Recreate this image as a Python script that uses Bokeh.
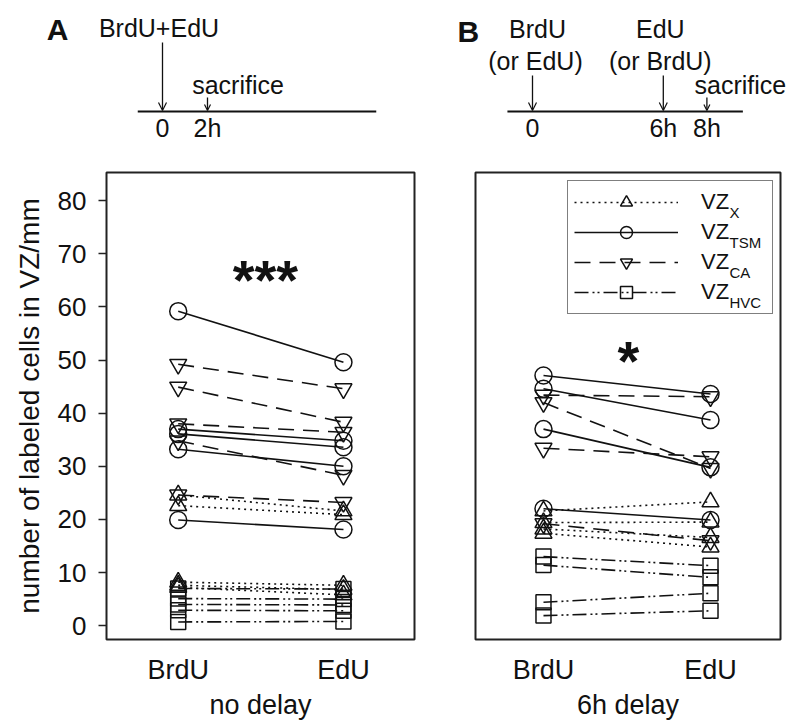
from bokeh.plotting import figure
from bokeh.models import Range1d, FixedTicker, Legend, LegendItem, Label, Arrow, OpenHead
from bokeh.layouts import column, row
from bokeh.embed import file_html
from bokeh.resources import INLINE
from bokeh.core.properties import value

FONT = "Liberation Sans"
INK = "#111111"

# ---------------- data ----------------
categories = ["BrdU", "EdU"]
conditions = ["no delay", "6h delay"]
regions = ["X", "TSM", "CA", "HVC"]
y_ticks = [0, 10, 20, 30, 40, 50, 60, 70, 80]
significance = ["***", "*"]

# panel A : no delay (BrdU value, EdU value per animal)
X_A_brdu = [24.6, 22.6, 8.2, 7.6, 7.2]
X_A_edu = [21.6, 20.9, 7.6, 6.8, 5.8]
TSM_A_brdu = [59.2, 37.0, 36.1, 33.2, 19.9]
TSM_A_edu = [49.6, 34.8, 33.6, 30.0, 18.1]
CA_A_brdu = [49.2, 44.9, 38.0, 34.8, 24.6]
CA_A_edu = [44.6, 38.3, 36.4, 28.3, 23.2]
HVC_A_brdu = [7.0, 5.1, 4.0, 2.9, 0.7]
HVC_A_edu = [6.9, 5.0, 3.9, 2.8, 0.8]

# panel B : 6h delay
X_B_brdu = [21.6, 19.4, 18.2, 17.4]
X_B_edu = [23.3, 19.5, 16.6, 14.8]
TSM_B_brdu = [47.1, 44.6, 37.0, 22.0]
TSM_B_edu = [43.6, 38.7, 29.8, 19.9]
CA_B_brdu = [43.4, 42.0, 33.4, 19.2]
CA_B_edu = [43.1, 29.6, 31.8, 16.0]
HVC_B_brdu = [13.0, 11.4, 4.4, 1.9]
HVC_B_edu = [11.3, 9.1, 6.1, 2.8]

# timelines (hours)
tl_A_inject_h = [0]
tl_A_inject_label = ["BrdU+EdU"]
tl_A_sacrifice_h = 2
tl_A_tick_h = [0, 2]
tl_A_tick_label = ["0", "2h"]

tl_B_inject_h = [0, 6]
tl_B_inject_label1 = ["BrdU", "EdU"]
tl_B_inject_label2 = ["(or EdU)", "(or BrdU)"]
tl_B_sacrifice_h = 8
tl_B_tick_h = [0, 6, 8]
tl_B_tick_label = ["0", "6h", "8h"]

panel_data = {
    "no delay": {"X": (X_A_brdu, X_A_edu), "TSM": (TSM_A_brdu, TSM_A_edu),
                 "CA": (CA_A_brdu, CA_A_edu), "HVC": (HVC_A_brdu, HVC_A_edu)},
    "6h delay": {"X": (X_B_brdu, X_B_edu), "TSM": (TSM_B_brdu, TSM_B_edu),
                 "CA": (CA_B_brdu, CA_B_edu), "HVC": (HVC_B_brdu, HVC_B_edu)},
}

styles = {
    "X": dict(marker="triangle", dash="2 4", size=17),
    "TSM": dict(marker="circle", dash="solid", size=17),
    "CA": dict(marker="inverted_triangle", dash="16 9", size=17),
    "HVC": dict(marker="square", dash="14 4 2 3 2 4", size=15),
}

cat_x = {c: i + 1 for i, c in enumerate(categories)}
Y_RANGE = (-2.6, 85.3)

# ---------------- layout constants (pixels) ----------------
TL_H = 150           # timeline strip height
PANEL_H = 573        # data panel height
FRAME_TOP_BORDER = 22
FRAME_H = 467
A_W, A_LEFT, A_RIGHT = 430, 106, 16      # frame 106..414
B_W, B_LEFT, B_RIGHT = 359, 45, 9        # frame 475..780


def make_panel(cond, xr, width, mbl, mbr, show_y):
    p = figure(width=width, height=PANEL_H, x_range=Range1d(*xr), y_range=Range1d(*Y_RANGE),
               output_backend="svg", toolbar_location=None,
               min_border_left=mbl, min_border_right=mbr, min_border_top=FRAME_TOP_BORDER,
               min_border_bottom=PANEL_H - FRAME_TOP_BORDER - FRAME_H,
               y_axis_location="left" if show_y else None)
    p.grid.visible = False
    p.background_fill_color = "white"
    p.border_fill_color = "white"
    p.outline_line_color = "#222222"
    p.outline_line_width = 2

    ax = p.xaxis[0]
    ax.ticker = FixedTicker(ticks=[cat_x[c] for c in categories])
    ax.major_label_overrides = {cat_x[c]: c for c in categories}
    ax.axis_line_color = None
    ax.major_tick_line_color = None
    ax.minor_tick_line_color = None
    ax.major_tick_out = 0
    ax.major_label_standoff = 15
    ax.major_label_text_font = FONT
    ax.major_label_text_font_size = "27px"
    ax.major_label_text_color = INK
    ax.axis_label = cond
    ax.axis_label_standoff = 2
    ax.axis_label_text_font = FONT
    ax.axis_label_text_font_size = "27px"
    ax.axis_label_text_font_style = "normal"
    ax.axis_label_text_color = INK

    if show_y:
        ay = p.yaxis[0]
        ay.ticker = FixedTicker(ticks=y_ticks)
        ay.axis_line_color = None
        ay.minor_tick_line_color = None
        ay.major_tick_out = 8
        ay.major_tick_in = 0
        ay.major_tick_line_color = "#222222"
        ay.major_tick_line_width = 1.3
        ay.major_label_standoff = 12
        ay.major_label_text_font = FONT
        ay.major_label_text_font_size = "26px"
        ay.major_label_text_color = INK
        ay.axis_label = "number of labeled cells in VZ/mm"
        ay.axis_label_standoff = 10
        ay.axis_label_text_font = FONT
        ay.axis_label_text_font_size = "28px"
        ay.axis_label_text_font_style = "normal"
        ay.axis_label_text_color = INK

    rends = {}
    for reg in regions:
        b, e = panel_data[cond][reg]
        st = styles[reg]
        lr = p.multi_line(xs=[[cat_x["BrdU"], cat_x["EdU"]] for _ in b],
                          ys=[[bv, ev] for bv, ev in zip(b, e)],
                          line_color=INK, line_width=1.6, line_dash=st["dash"])
        sr = p.scatter(x=[cat_x["BrdU"]] * len(b) + [cat_x["EdU"]] * len(e), y=b + e,
                       marker=st["marker"], size=st["size"], fill_color=None,
                       line_color=INK, line_width=1.5)
        rends[reg] = (lr, sr)
    return p, rends


XR_A = (0.566, 2.43)
XR_B = (0.593, 2.419)
pA, rA = make_panel("no delay", XR_A, A_W, A_LEFT, A_RIGHT, True)
pB, rB = make_panel("6h delay", XR_B, B_W, B_LEFT, B_RIGHT, False)

# significance marks
pA.add_layout(Label(x=1.528, y=65.2, text=significance[0], text_font=FONT, text_font_size="56px",
                    text_font_style="bold", text_align="center", text_baseline="middle",
                    text_color=INK))
pB.add_layout(Label(x=1.509, y=50.0, text=significance[1], text_font=FONT, text_font_size="56px",
                    text_font_style="bold", text_align="center", text_baseline="middle",
                    text_color=INK))

# legend in panel B (transparent background so the subscripts show through)
LEG_PAD, LEG_ITEM_H = 6, 30
items = [LegendItem(label="VZ", renderers=list(rB[reg])) for reg in regions]
legend = Legend(items=items, location=(92, 325), glyph_width=104, glyph_height=LEG_ITEM_H,
                label_height=LEG_ITEM_H, label_width=65, label_standoff=23, padding=LEG_PAD,
                spacing=0, margin=0, border_line_color="black", border_line_width=1.5,
                background_fill_alpha=0.0,
                label_text_font=FONT, label_text_font_size="22px", label_text_color=INK)
pB.add_layout(legend)

# subscripts next to the legend labels (pixel layout -> panel B data units)
FRAME_B_LEFT, FRAME_B_W = 475, 305
FRAME_TOP = TL_H + FRAME_TOP_BORDER


def bx(px):
    return XR_B[0] + (px - FRAME_B_LEFT) / FRAME_B_W * (XR_B[1] - XR_B[0])


def by(py):
    return Y_RANGE[1] - (py - FRAME_TOP) / FRAME_H * (Y_RANGE[1] - Y_RANGE[0])


leg_top = FRAME_TOP + FRAME_H - 325 - (2 * LEG_PAD + LEG_ITEM_H * len(regions))
sub_x = [bx(729)] * len(regions)
sub_y = [by(leg_top + LEG_PAD + LEG_ITEM_H * (i + 0.5) + 9) for i in range(len(regions))]
pB.text(x=sub_x, y=sub_y, text=regions, text_font=value(FONT), text_font_size="15px",
        text_align="left", text_baseline="middle", text_color=INK)


# ---------------- timelines ----------------
def make_timeline(width, xr):
    t = figure(width=width, height=TL_H, x_range=Range1d(*xr), y_range=Range1d(0, TL_H),
               output_backend="svg", toolbar_location=None, min_border=0,
               min_border_left=0, min_border_right=0, min_border_top=0, min_border_bottom=0,
               x_axis_location=None, y_axis_location=None)
    t.grid.visible = False
    t.outline_line_color = None
    t.background_fill_color = "white"
    t.border_fill_color = "white"
    return t


def txt(t, x, y, s, size="25px", style="normal", xoff=0):
    t.text(x=x, y=y, text=s, text_font=value(FONT), text_font_size=size,
           text_font_style=style, text_align="center", text_baseline="middle",
           text_color=INK, x_offset=xoff)


def arrow(t, x, y0, y1, size=8):
    t.add_layout(Arrow(end=OpenHead(size=size, line_width=1.2, line_color=INK),
                       x_start=x, y_start=y0, x_end=x, y_end=y1,
                       line_width=1.3, line_color=INK))


def v(py):  # pixel row inside the timeline strip -> strip units
    return TL_H - py


# A: 0h at x 162; 22.5 px per hour
tA = make_timeline(A_W, (-162 / 22.5, (A_W - 162) / 22.5))
tA.segment(x0=[-1.1], x1=[9.5], y0=[v(111)], y1=[v(111)], line_color=INK, line_width=2)
txt(tA, [-4.667], [v(29)], ["A"], size="30px", style="bold")
txt(tA, tl_A_inject_h, [v(27.5)] * len(tl_A_inject_h), tl_A_inject_label, xoff=-3.5)
for h in tl_A_inject_h:
    arrow(tA, h, v(42), v(110))
txt(tA, [tl_A_sacrifice_h], [v(84)], ["sacrifice"], xoff=30.5)
arrow(tA, tl_A_sacrifice_h, v(97), v(110), size=6)
txt(tA, tl_A_tick_h, [v(127)] * len(tl_A_tick_h), tl_A_tick_label)

# B: 0h at x 532 (strip starts at 430); 21.8 px per hour
tB = make_timeline(B_W, (-102 / 21.8, (B_W - 102) / 21.8))
tB.segment(x0=[-1.15], x1=[9.65], y0=[v(111)], y1=[v(111)], line_color=INK, line_width=2)
txt(tB, [-2.94], [v(31)], ["B"], size="30px", style="bold")
txt(tB, tl_B_inject_h, [v(28)] * len(tl_B_inject_h), tl_B_inject_label1, xoff=[5, -3])
txt(tB, tl_B_inject_h, [v(60)] * len(tl_B_inject_h), tl_B_inject_label2, xoff=[3, -3])
for h in tl_B_inject_h:
    arrow(tB, h, v(75), v(110))
txt(tB, [tl_B_sacrifice_h], [v(84)], ["sacrifice"], xoff=33.5)
arrow(tB, tl_B_sacrifice_h, v(97), v(110), size=6)
txt(tB, tl_B_tick_h, [v(127)] * len(tl_B_tick_h), tl_B_tick_label)

layout = column(row(tA, tB), row(pA, pB))
open("out.html", "w").write(file_html(layout, INLINE))
